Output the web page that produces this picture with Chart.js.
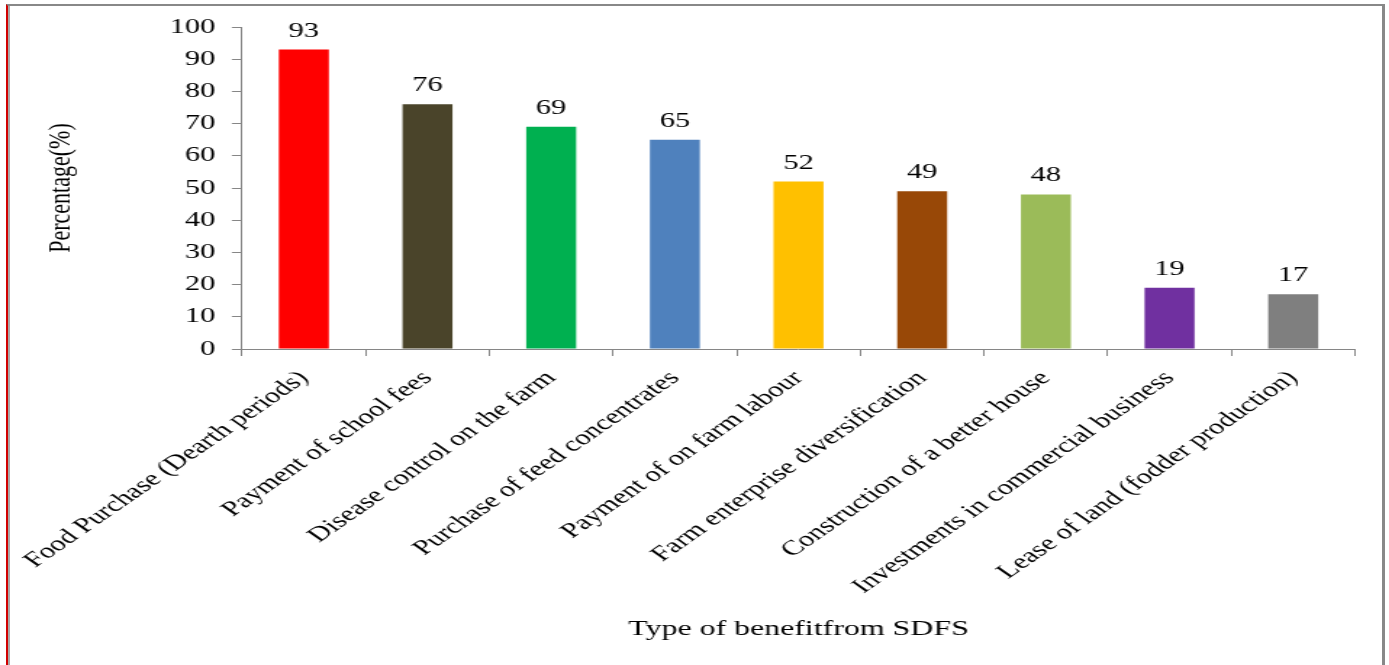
<!DOCTYPE html>
<html>
<head>
<meta charset="utf-8">
<script src="https://cdn.jsdelivr.net/npm/chart.js@4"></script>
<style>
  html, body { margin: 0; padding: 0; background: #fff; overflow: hidden; }
  #wrap { position: relative; width: 1389px; height: 665px; }
  /* chart is drawn narrow and then stretched sideways */
  #chart { position: absolute; left: 0; top: 0; transform: scaleX(1.45); transform-origin: 0 0; }
  #frame {
    position: absolute; left: 6px; top: 4px; width: 1374px; height: 700px;
    border-top: 2px solid #888; border-right: 3px solid #888; border-left: 2px solid #d00000;
    box-shadow: inset 2px 0 0 #a8a8a8;
    pointer-events: none;
  }
</style>
</head>
<body>
<div id="wrap">
  <canvas id="chart" width="958" height="665"></canvas>
  <div id="frame"></div>
</div>
<script>
const categories = [
  'Food Purchase (Dearth periods)',
  'Payment of school fees',
  'Disease control on the farm',
  'Purchase of feed concentrates',
  'Payment of on farm labour',
  'Farm enterprise diversification',
  'Construction of a better house',
  'Investments in commercial business',
  'Lease of land (fodder production)'
];
const percentages = [93, 76, 69, 65, 52, 49, 48, 19, 17];
const barColors = ['#ff0000', '#4a442a', '#00b050', '#4f81bd', '#ffc000', '#984807', '#9bbb59', '#7030a0', '#7f7f7f'];

const serif = '"Liberation Serif", "Times New Roman", serif';
const axisGray = '#868686';

// writes each bar's value above it
const valueLabels = {
  id: 'valueLabels',
  afterDatasetsDraw(chart) {
    const ctx = chart.ctx;
    const meta = chart.getDatasetMeta(0);
    ctx.save();
    ctx.font = '21px ' + serif;
    ctx.fillStyle = '#000';
    ctx.textAlign = 'center';
    ctx.textBaseline = 'alphabetic';
    meta.data.forEach((bar, i) => {
      ctx.fillText(String(percentages[i]), bar.x, bar.y - 13);
    });
    ctx.restore();
  }
};

new Chart(document.getElementById('chart'), {
  type: 'bar',
  data: {
    labels: categories,
    datasets: [{
      data: percentages,
      backgroundColor: barColors,
      borderWidth: 0,
      barPercentage: 0.404,
      categoryPercentage: 1
    }]
  },
  options: {
    responsive: false,
    animation: false,
    layout: { padding: { left: 0, right: 23.5, top: 27, bottom: 0 } },
    plugins: {
      legend: { display: false },
      tooltip: { enabled: false }
    },
    scales: {
      x: {
        afterFit(scale) { scale.height = 316; },
        grid: { drawOnChartArea: false, drawTicks: true, tickLength: 7, color: axisGray, offset: true },
        border: { color: axisGray, width: 1 },
        ticks: {
          autoSkip: false,
          minRotation: 45,
          maxRotation: 45,
          padding: 10,
          color: '#000',
          font: { family: serif, size: 21 }
        },
        title: {
          display: true,
          text: 'Type of benefitfrom SDFS',
          color: '#000',
          font: { family: serif, size: 22 },
          padding: { top: 0, bottom: 22.5 }
        }
      },
      y: {
        min: 0,
        max: 100,
        afterFit(scale) { scale.width = 166.9; },
        grid: { drawOnChartArea: false, drawTicks: true, tickLength: 7, color: axisGray },
        border: { color: axisGray, width: 1 },
        ticks: {
          stepSize: 10,
          padding: 11.5,
          color: '#000',
          font: { family: serif, size: 21 }
        },
        title: {
          display: true,
          text: 'Percentage(%)',
          color: '#000',
          font: { family: serif, size: 22 },
          padding: { top: 29, bottom: 0 }
        }
      }
    }
  },
  plugins: [valueLabels]
});
</script>
</body>
</html>
